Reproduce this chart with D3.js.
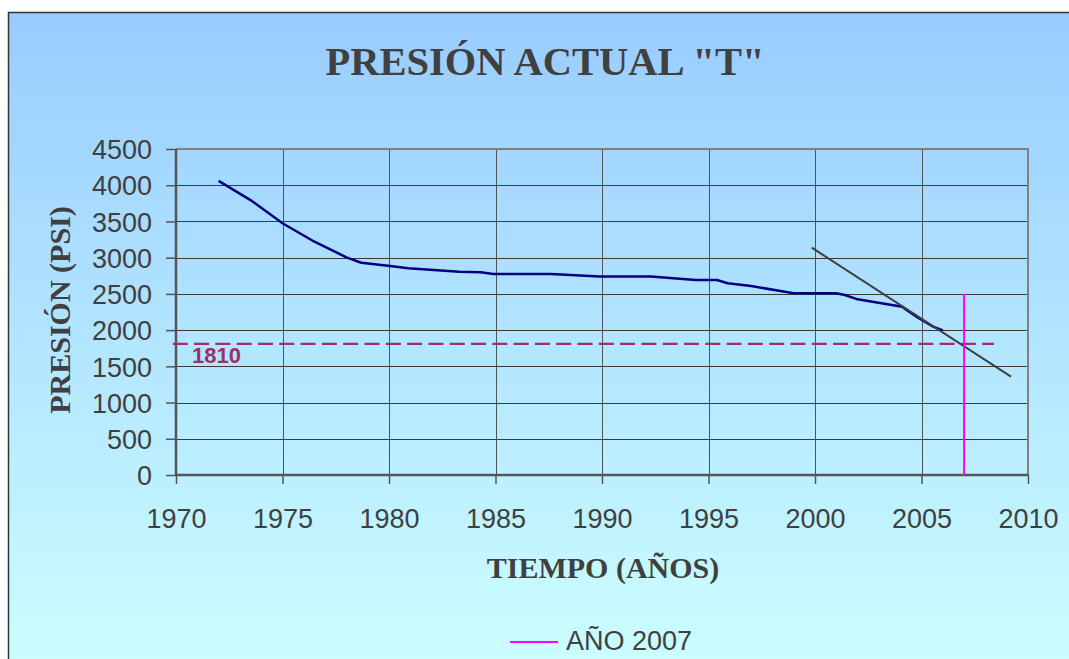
<!DOCTYPE html>
<html>
<head>
<meta charset="utf-8">
<script src="https://cdn.jsdelivr.net/npm/d3@7"></script>
<style>
  html, body { margin: 0; padding: 0; background: #ffffff; }
  svg { display: block; }
</style>
</head>
<body>
<svg id="chart" width="1069" height="659"></svg>
<script>
// Measured reservoir pressure over time
const years = [1972.0, 1973.5, 1975.0, 1976.5, 1978.0, 1978.7, 1980.05, 1980.9, 1983.3, 1984.3, 1984.9,
               1987.6, 1989.9, 1992.3, 1994.4, 1995.4, 1995.9, 1997.0, 1999.0, 2001.0, 2001.4,
               2002.0, 2004.1, 2004.3, 2004.8, 2005.55, 2006.0];
const pressure = [4060, 3795, 3475, 3220, 3005, 2930, 2885, 2853, 2806, 2800, 2775,
                  2775, 2740, 2740, 2692, 2692, 2646, 2609, 2508, 2508, 2485,
                  2425, 2323, 2278, 2177, 2047, 1995];

// Straight-line trend of the recent decline
const trendYears = [1999.85, 2009.2];
const trendPressure = [3138, 1357];

// Reference pressure level and the marker year
const limitPressure = 1810;
const limitYears = [1969.85, 2008.4];
const markerYear = 2007;
const markerPressure = [2500, 0];

const xTicks = [1970, 1975, 1980, 1985, 1990, 1995, 2000, 2005, 2010];
const yTicks = [0, 500, 1000, 1500, 2000, 2500, 3000, 3500, 4000, 4500];

const title = 'PRESIÓN ACTUAL "T"';
const xTitle = "TIEMPO (AÑOS)";
const yTitle = "PRESIÓN (PSI)";
const legendLabel = "AÑO 2007";

const svg = d3.select("#chart");
const W = 1069, H = 659;

// Background panel with a vertical gradient
const defs = svg.append("defs");
const grad = defs.append("linearGradient")
  .attr("id", "bg").attr("gradientUnits", "userSpaceOnUse")
  .attr("x1", 0).attr("y1", 12).attr("x2", 0).attr("y2", 673);
grad.append("stop").attr("offset", 0).attr("stop-color", "#99ccff");
grad.append("stop").attr("offset", 1).attr("stop-color", "#ccffff");

svg.append("rect").attr("x", 0).attr("y", 0).attr("width", W).attr("height", H).attr("fill", "#ffffff");
svg.append("rect")
  .attr("x", 8.5).attr("y", 12.5).attr("width", 1100).attr("height", 700)
  .attr("fill", "url(#bg)").attr("stroke", "#333333").attr("stroke-width", 1.5);

const plot = { left: 176, right: 1028, top: 149, bottom: 475 };
const x = d3.scaleLinear().domain([1970, 2010]).range([plot.left, plot.right]);
const y = d3.scaleLinear().domain([0, 4500]).range([plot.bottom, plot.top]);

const textColor = "#404040";

// Gridlines
const grid = svg.append("g");
grid.selectAll("line.h").data(yTicks.filter(d => d > 0 && d < 4500)).join("line")
  .attr("x1", plot.left).attr("x2", plot.right)
  .attr("y1", d => Math.round(y(d)) + 0.5).attr("y2", d => Math.round(y(d)) + 0.5)
  .attr("stroke", "#3a3a3a").attr("stroke-width", 1);
grid.selectAll("line.v").data(xTicks.filter(d => d > 1970 && d < 2010)).join("line")
  .attr("y1", plot.top).attr("y2", plot.bottom)
  .attr("x1", d => Math.round(x(d)) + 0.5).attr("x2", d => Math.round(x(d)) + 0.5)
  .attr("stroke", "#4a5558").attr("stroke-width", 1);

// Top and right plot border
svg.append("path")
  .attr("d", `M${plot.left},${plot.top}H${plot.right}V${plot.bottom}`)
  .attr("fill", "none").attr("stroke", "#808080").attr("stroke-width", 2);

// Axes
const yAxis = d3.axisLeft(y).tickValues(yTicks).tickSize(10).tickPadding(14).tickFormat(d3.format("d"));
const gy = svg.append("g").attr("transform", `translate(${plot.left},0)`).call(yAxis);
const xAxis = d3.axisBottom(x).tickValues(xTicks).tickSize(9).tickPadding(23).tickFormat(d3.format("d"));
const gx = svg.append("g").attr("transform", `translate(0,${plot.bottom})`).call(xAxis);

[gx, gy].forEach(g => {
  g.select(".domain").attr("stroke", "#555555").attr("stroke-width", 2.5);
  g.selectAll(".tick line").attr("stroke", "#555555").attr("stroke-width", 1.5);
  g.selectAll(".tick text")
    .attr("fill", textColor)
    .style("font-family", "'Liberation Sans', Arial, sans-serif")
    .style("font-size", "27px");
});
gx.select(".domain").attr("d", `M${plot.left},0H${plot.right}`);
gy.select(".domain").attr("d", `M0,${plot.bottom}V${plot.top}`);
gy.selectAll(".tick text").attr("dy", "0.36em");
gx.selectAll(".tick text").attr("dy", 0).attr("y", 53);

// Reference level (dashed) and its label
svg.append("line")
  .attr("x1", x(limitYears[0])).attr("x2", x(limitYears[1]))
  .attr("y1", y(limitPressure)).attr("y2", y(limitPressure))
  .attr("stroke", "#993366").attr("stroke-width", 2.2)
  .attr("stroke-dasharray", "15,6.3");
svg.append("text")
  .attr("x", x(1970.75)).attr("y", y(limitPressure) + 19)
  .attr("fill", "#993366")
  .attr("font-family", "Arimo, 'Liberation Sans', Arial, sans-serif")
  .attr("font-weight", 700).attr("font-size", 22)
  .attr("font-stretch", "normal")
  .text(String(limitPressure));

// Pressure history
const line = d3.line().x(d => x(d[0])).y(d => y(d[1]));
svg.append("path")
  .datum(years.map((yr, i) => [yr, pressure[i]]))
  .attr("d", line)
  .attr("fill", "none").attr("stroke", "#000080").attr("stroke-width", 2.5)
  .attr("stroke-linejoin", "round");

// Trend line
svg.append("path")
  .datum(trendYears.map((yr, i) => [yr, trendPressure[i]]))
  .attr("d", line)
  .attr("fill", "none").attr("stroke", "#404040").attr("stroke-width", 2);

// Year marker
svg.append("path")
  .datum(markerPressure.map(p => [markerYear, p]))
  .attr("d", line)
  .attr("fill", "none").attr("stroke", "#ff00ff").attr("stroke-width", 2);

// Titles
svg.append("text")
  .attr("x", 545).attr("y", 75).attr("text-anchor", "middle")
  .attr("fill", textColor)
  .style("font-family", "'Liberation Serif', 'Times New Roman', serif")
  .style("font-weight", "bold").style("font-size", "40.5px")
  .text(title);
svg.append("text")
  .attr("x", 603).attr("y", 578).attr("text-anchor", "middle")
  .attr("fill", textColor)
  .style("font-family", "'Liberation Serif', 'Times New Roman', serif")
  .style("font-weight", "bold").style("font-size", "30px")
  .text(xTitle);
svg.append("text")
  .attr("transform", "translate(70,310) rotate(-90)").attr("text-anchor", "middle")
  .attr("fill", textColor)
  .style("font-family", "'Liberation Serif', 'Times New Roman', serif")
  .style("font-weight", "bold").style("font-size", "30px")
  .text(yTitle);

// Legend
const legend = svg.append("g").attr("transform", "translate(510,642)");
legend.append("line").attr("x1", 0).attr("x2", 48).attr("y1", 0).attr("y2", 0)
  .attr("stroke", "#ff00ff").attr("stroke-width", 2);
legend.append("text").attr("x", 56).attr("y", 8)
  .attr("fill", textColor)
  .style("font-family", "'Liberation Sans', Arial, sans-serif")
  .style("font-size", "27px")
  .text(legendLabel);
</script>
</body>
</html>
